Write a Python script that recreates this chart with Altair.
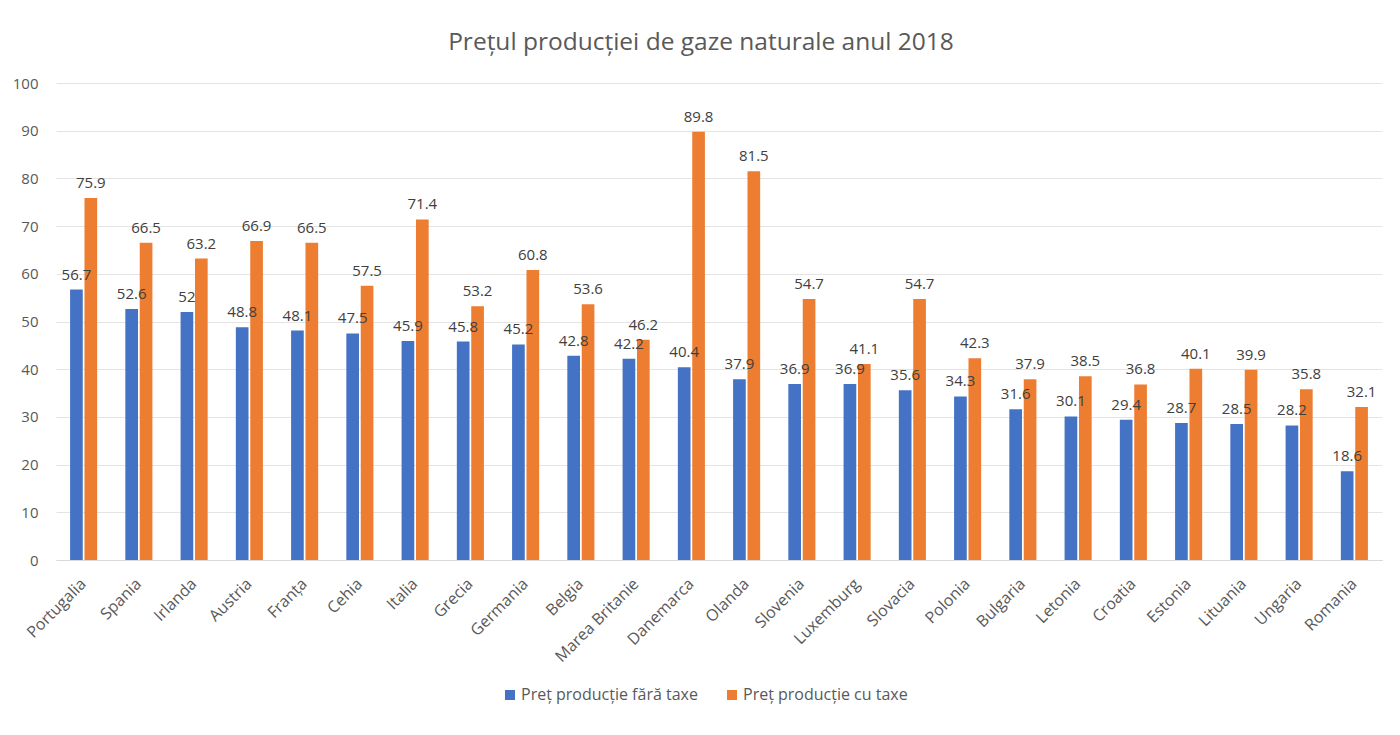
import altair as alt
import pandas as pd

countries = ["Portugalia", "Spania", "Irlanda", "Austria", "Franța", "Cehia", "Italia",
             "Grecia", "Germania", "Belgia", "Marea Britanie", "Danemarca", "Olanda",
             "Slovenia", "Luxemburg", "Slovacia", "Polonia", "Bulgaria", "Letonia",
             "Croatia", "Estonia", "Lituania", "Ungaria", "Romania"]
fara_taxe = [56.7, 52.6, 52, 48.8, 48.1, 47.5, 45.9, 45.8, 45.2, 42.8, 42.2, 40.4,
             37.9, 36.9, 36.9, 35.6, 34.3, 31.6, 30.1, 29.4, 28.7, 28.5, 28.2, 18.6]
cu_taxe = [75.9, 66.5, 63.2, 66.9, 66.5, 57.5, 71.4, 53.2, 60.8, 53.6, 46.2, 89.8,
           81.5, 54.7, 41.1, 54.7, 42.3, 37.9, 38.5, 36.8, 40.1, 39.9, 35.8, 32.1]
series = ["Preț producție fără taxe", "Preț producție cu taxe"]
colors = ["#4472C4", "#ED7D31"]

rows = []
for c, a, b in zip(countries, fara_taxe, cu_taxe):
    rows.append({"tara": c, "serie": series[0], "valoare": a, "eticheta": f"{a:g}"})
    rows.append({"tara": c, "serie": series[1], "valoare": b, "eticheta": f"{b:g}"})
df = pd.DataFrame(rows)

FONT = "Open Sans"

x = alt.X("tara:N", sort=countries, title=None,
          scale=alt.Scale(paddingInner=0.51, paddingOuter=0.255),
          axis=alt.Axis(labelAngle=-45, labelFontSize=16, labelColor="#595959",
                        labelFont=FONT, labelPadding=21, ticks=False, labelLimit=0,
                        domainColor="#D9D9D9", labelAlign="right", labelBaseline="middle"))
xo = alt.XOffset("serie:N", sort=series,
                 scale=alt.Scale(domain=series, paddingInner=0.12, paddingOuter=0))
y = alt.Y("valoare:Q", title=None,
          scale=alt.Scale(domain=[0, 100], nice=False),
          axis=alt.Axis(values=list(range(0, 101, 10)), labelFontSize=15,
                        labelColor="#595959", labelFont=FONT, labelPadding=18,
                        ticks=False, domain=False, gridColor="#E4E4E4"))

base = alt.Chart(df)
bars = base.mark_bar().encode(
    x=x, xOffset=xo, y=y,
    color=alt.Color("serie:N", sort=series,
                    scale=alt.Scale(domain=series, range=colors),
                    legend=alt.Legend(title=None, orient="none", legendX=446, legendY=604,
                                      direction="horizontal", symbolType="square",
                                      symbolSize=100, symbolStrokeWidth=0,
                                      labelFontSize=16, labelColor="#595959", labelLimit=0,
                                      labelFont=FONT, columnPadding=26, labelOffset=3)),
)
labels = base.mark_text(baseline="bottom", dy=-7, fontSize=15, color="#404040",
                        font=FONT).encode(
    x=alt.X("tara:N", sort=countries), xOffset=xo, y="valoare:Q", text="eticheta:N")

chart = alt.layer(bars, labels).properties(
    width=1326, height=477,
    autosize=alt.AutoSizeParams(type="none"),
    padding={"left": 48, "top": 75, "right": 10, "bottom": 160},
    title=alt.TitleParams("Prețul producției de gaze naturale anul 2018", fontSize=24.5,
                          font=FONT, fontWeight="normal", color="#595959",
                          anchor="middle", offset=21, dx=-18),
).configure_view(stroke=None)

chart.save("out.html", embed_options={"renderer": "svg", "actions": False})
